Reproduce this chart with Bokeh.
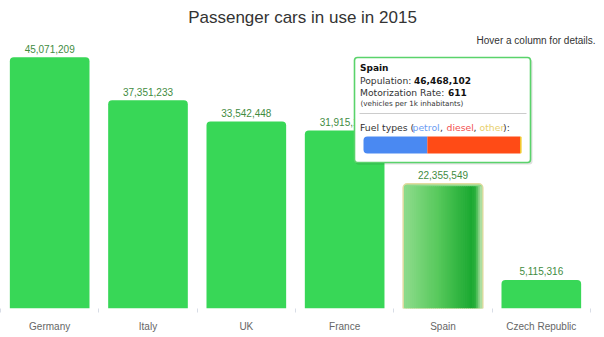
from bokeh.plotting import figure
from bokeh.models import Range1d, FixedTicker, ColumnDataSource
from bokeh.core.properties import value
from bokeh.embed import file_html
from bokeh.resources import INLINE

# ---------------- data ----------------
countries = ["Germany", "Italy", "UK", "France", "Spain", "Czech Republic"]
cars = [45071209, 37351233, 33542448, 31915120, 22355549, 5115316]
title_text = "Passenger cars in use in 2015"
hint_text = "Hover a column for details."

tip_country = "Spain"
tip_population = 46468102
tip_rate = 611
fuel_types = ["petrol", "diesel", "other"]
fuel_share = [40.4, 58.8, 0.8]

# ---------------- styles / layout ----------------
FONT = value("Liberation Sans")
TFONT = value("DejaVu Sans")
BAR_COLOR = "#38d757"
LABEL_COLOR = "#3f8c3f"
fuel_colors = ["#4a89f2", "#ff4b16", "#f0c000"]
fuel_text_colors = ["#6b9cf2", "#f25050", "#e8cf6c"]

W, H = 604, 337
BOTTOM = 308          # pixel row of the frame bottom (baseline)
BAND = 98.33          # pixel width of one category band
PX_PER_M = 5.576      # pixels per million cars
BAR_W = 0.81

x_end = W / BAND
y_end = BOTTOM / PX_PER_M * 1e6


def X(px):
    return px / BAND


def Y(py):
    return (BOTTOM - py) / PX_PER_M * 1e6


def DX(px):
    return px / BAND


def DY(px):
    return px / PX_PER_M * 1e6


p = figure(width=W, height=H, x_range=Range1d(0, x_end), y_range=Range1d(0, y_end),
           output_backend="svg", toolbar_location=None, y_axis_location=None,
           min_border_left=0, min_border_right=0, min_border_top=0,
           min_border_bottom=H - BOTTOM)
p.outline_line_color = None
p.grid.visible = False
p.background_fill_color = "white"
p.border_fill_color = "white"

centers = [i + 0.5 for i in range(len(countries))]
xa = p.xaxis[0]
xa.ticker = FixedTicker(ticks=centers, minor_ticks=list(range(len(countries) + 1)))
xa.major_label_overrides = {c: n for c, n in zip(centers, countries)}
xa.axis_line_color = None
xa.major_tick_line_color = None
xa.major_tick_out = 0
xa.major_tick_in = 0
xa.minor_tick_line_color = "#d8dde6"
xa.minor_tick_out = 4
xa.minor_tick_in = 0
xa.major_label_standoff = 8
xa.major_label_text_font = "Liberation Sans"
xa.major_label_text_font_size = "10px"
xa.major_label_text_color = "#666666"

# ---------------- bars ----------------
hover_idx = countries.index(tip_country)
norm = [i for i in range(len(countries)) if i != hover_idx]
src = ColumnDataSource(dict(x=[centers[i] for i in norm], top=[cars[i] for i in norm]))
p.vbar(x="x", top="top", bottom=0, width=BAR_W, source=src, fill_color=BAR_COLOR,
       line_color=None, border_radius=(4, 4, 0, 0))

# hovered bar: border + horizontal gradient made of thin stripes
hc = centers[hover_idx]
hv = cars[hover_idx]
p.vbar(x=[hc], top=[hv], bottom=0, width=BAR_W, fill_color="#8cd98a",
       line_color="#e3dba0", line_width=1.5, border_radius=(4, 4, 0, 0))
stops = [(0.0, (0x8e, 0xdc, 0x8c)), (0.45, (0x55, 0xc8, 0x5a)), (0.86, (0x1b, 0xa9, 0x31)),
         (0.92, (0x2a, 0xb0, 0x3d)), (1.0, (0xc4, 0xe6, 0xb4))]


def grad(t):
    for (t0, c0), (t1, c1) in zip(stops[:-1], stops[1:]):
        if t0 <= t <= t1:
            f = (t - t0) / (t1 - t0) if t1 > t0 else 0
            return "#%02x%02x%02x" % tuple(int(round(a + (b - a) * f)) for a, b in zip(c0, c1))
    return "#%02x%02x%02x" % stops[-1][1]


N = 40
inset = DX(1.2)
left0 = hc - BAR_W / 2 + inset
sw = (BAR_W - 2 * inset) / N
p.quad(left=[left0 + k * sw for k in range(N)],
       right=[left0 + (k + 1) * sw + sw * 0.3 for k in range(N)],
       top=[hv - DY(2.5)] * N, bottom=[0] * N,
       fill_color=[grad((k + 0.5) / N) for k in range(N)], line_color=None)

# value labels
lsrc = ColumnDataSource(dict(x=centers, y=cars, t=[f"{v:,}" for v in cars]))
p.text(x="x", y="y", text="t", source=lsrc, y_offset=-8.5, text_align="center",
       text_baseline="middle", text_font=FONT, text_font_size="10px", text_color=LABEL_COLOR)

# title + hint
p.text(x=[X(W / 2)], y=[Y(17)], text=[title_text], text_align="center", text_baseline="middle",
       text_font=FONT, text_font_size="17px", text_color="#333333")
p.text(x=[X(595)], y=[Y(40)], text=[hint_text], text_align="right", text_baseline="middle",
       text_font=FONT, text_font_size="10px", text_color="#333333")

# ---------------- tooltip ----------------
TL, TR, TT, TB = 354, 530, 57, 162
p.quad(left=[X(TL + 1)], right=[X(TR + 2)], top=[Y(TT + 2)], bottom=[Y(TB + 2)],
       fill_color="#000000", fill_alpha=0.12, line_color=None, border_radius=3)
p.quad(left=[X(TL)], right=[X(TR)], top=[Y(TT)], bottom=[Y(TB)],
       fill_color="white", line_color="#5ad36b", line_width=1.6, border_radius=3)


def tip_text(px, py, s, size="9.2px", bold=False, color="#333333"):
    p.text(x=[X(px)], y=[Y(py)], text=[s], text_align="left", text_baseline="middle",
           text_font=TFONT, text_font_size=size, text_color=color,
           text_font_style="bold" if bold else "normal")


tip_text(359.5, 67, tip_country, size="9px", bold=True, color="#111111")
tip_text(359.5, 80, "Population:")
tip_text(413.5, 80, f"{tip_population:,}", size="9px", bold=True, color="#111111")
tip_text(359.5, 91.5, "Motorization Rate:")
tip_text(447.5, 91.5, f"{tip_rate}", size="9px", bold=True, color="#111111")
tip_text(360, 103, "(vehicles per 1k inhabitants)", size="7.2px")
p.segment(x0=[X(359)], x1=[X(526)], y0=[Y(113)], y1=[Y(113)], line_color="#cccccc", line_width=1)

FY = 126.5
tip_text(359.5, FY, "Fuel types (", size="9.3px")
tip_text(412, FY, fuel_types[0], size="9.3px", color=fuel_text_colors[0])
tip_text(439.5, FY, ",", size="9.3px")
tip_text(446, FY, fuel_types[1], size="9.3px", color=fuel_text_colors[1])
tip_text(473, FY, ",", size="9.3px")
tip_text(479, FY, fuel_types[2], size="9.3px", color=fuel_text_colors[2])
tip_text(502.5, FY, "):", size="9.3px")

# stacked fuel share bar
FL, FR, FT, FB = 363, 521, 136, 153
tot = sum(fuel_share)
acc = 0.0
for i, (s, c) in enumerate(zip(fuel_share, fuel_colors)):
    l = FL + (FR - FL) * acc / tot
    acc += s
    r = FL + (FR - FL) * acc / tot
    if i == 0:
        br = (4, 0, 0, 4)
    elif i == len(fuel_share) - 1:
        br = (0, 1, 1, 0)
    else:
        br = 0
    p.quad(left=[X(l)], right=[X(r)], top=[Y(FT)], bottom=[Y(FB)], fill_color=c,
           line_color=None, border_radius=br)

open("out.html", "w").write(file_html(p, INLINE))
